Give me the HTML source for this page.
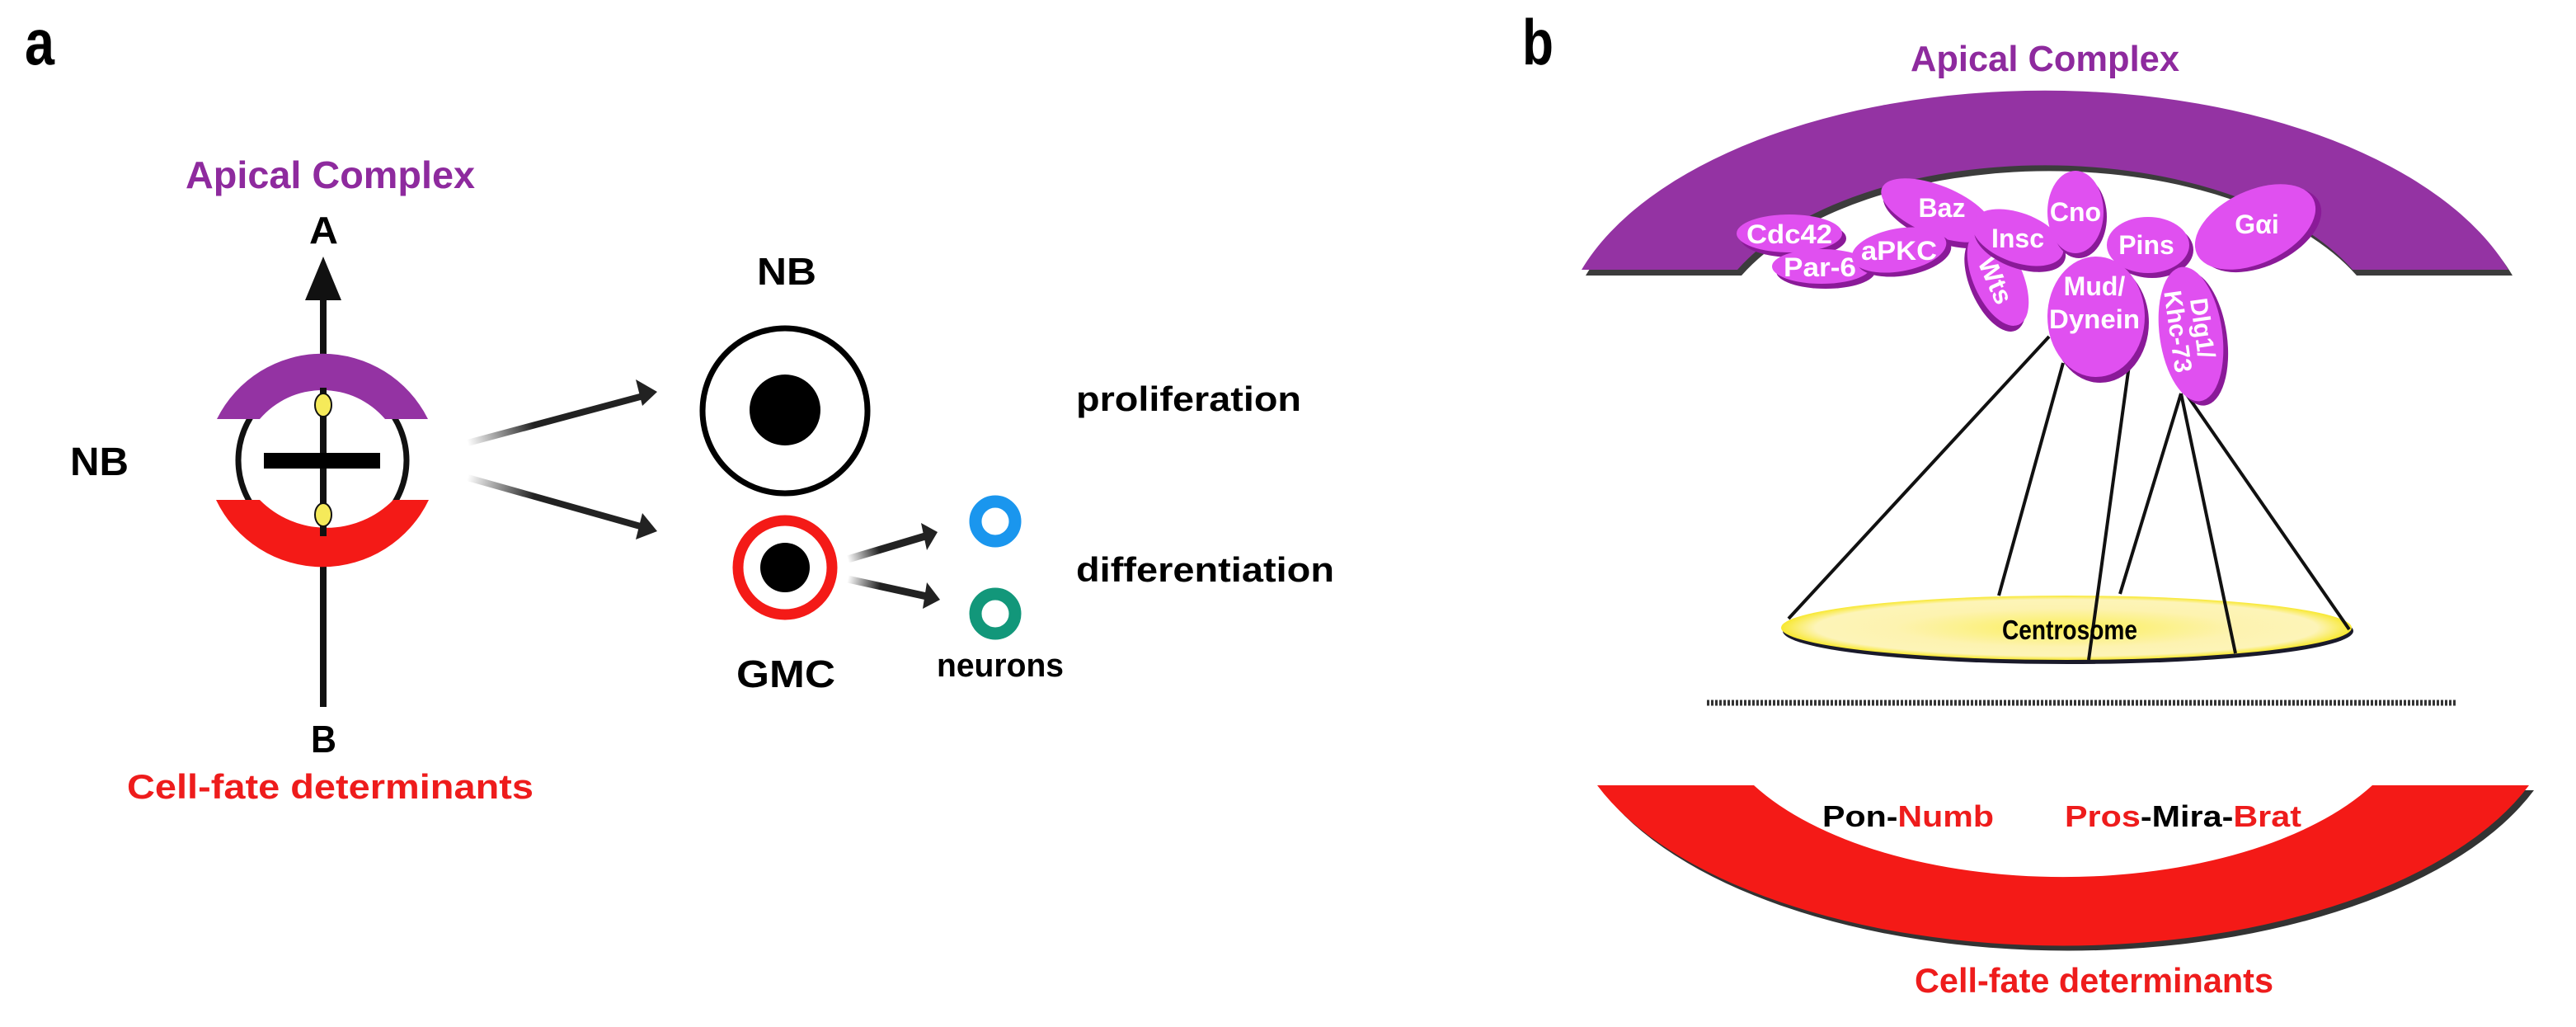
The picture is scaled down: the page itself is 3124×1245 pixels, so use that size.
<!DOCTYPE html>
<html><head><meta charset="utf-8"><style>
html,body{margin:0;padding:0;background:#fff;}
svg{display:block;}
text{font-family:"Liberation Sans Narrow","Liberation Sans",Arial,sans-serif;font-weight:bold;}
</style></head><body>
<svg width="3124" height="1245" viewBox="0 0 3124 1245" xmlns="http://www.w3.org/2000/svg">
<defs>
<linearGradient id="ga1" gradientUnits="userSpaceOnUse" x1="567" y1="537" x2="797" y2="475"><stop offset="0" stop-color="#222" stop-opacity="0"/><stop offset="0.35" stop-color="#222"/><stop offset="1" stop-color="#222"/></linearGradient>
<linearGradient id="ga2" gradientUnits="userSpaceOnUse" x1="567" y1="579" x2="797" y2="644"><stop offset="0" stop-color="#222" stop-opacity="0"/><stop offset="0.35" stop-color="#222"/><stop offset="1" stop-color="#222"/></linearGradient>
<linearGradient id="ga3" gradientUnits="userSpaceOnUse" x1="1028" y1="678" x2="1137" y2="645"><stop offset="0" stop-color="#222" stop-opacity="0"/><stop offset="0.35" stop-color="#222"/><stop offset="1" stop-color="#222"/></linearGradient>
<linearGradient id="ga4" gradientUnits="userSpaceOnUse" x1="1028" y1="702" x2="1140" y2="727"><stop offset="0" stop-color="#222" stop-opacity="0"/><stop offset="0.35" stop-color="#222"/><stop offset="1" stop-color="#222"/></linearGradient>
<radialGradient id="cg" cx="0.5" cy="0.5" r="0.5"><stop offset="0" stop-color="#fbef5a"/><stop offset="0.6" stop-color="#fdf3b0"/><stop offset="0.88" stop-color="#fdf4b8"/><stop offset="1" stop-color="#f8e830"/></radialGradient>
</defs>

<!-- Panel a -->
<text x="30" y="78" font-size="78" textLength="36" lengthAdjust="spacingAndGlyphs">a</text>
<text x="225" y="228" font-size="46" fill="#8e2a9e" textLength="351" lengthAdjust="spacingAndGlyphs">Apical Complex</text>
<text x="375" y="295" font-size="46" textLength="35" lengthAdjust="spacingAndGlyphs">A</text>
<text x="85" y="576" font-size="48" textLength="71" lengthAdjust="spacingAndGlyphs">NB</text>
<text x="377" y="912" font-size="46" textLength="31" lengthAdjust="spacingAndGlyphs">B</text>
<text x="154" y="968" font-size="42" fill="#ee1c1c" textLength="493" lengthAdjust="spacingAndGlyphs">Cell-fate determinants</text>

<ellipse cx="391" cy="558" rx="102" ry="100" fill="none" stroke="#111" stroke-width="7"/>
<line x1="392" y1="360" x2="392" y2="857" stroke="#111" stroke-width="8"/>
<polygon points="392,311 370,364 414,364" fill="#111"/>
<path d="M263,508 A143,143 0 0 1 519,508 L467,508 A100,100 0 0 0 315,508 Z" fill="#9433a3"/>
<path d="M262,606 A143,143 0 0 0 520,606 L477,606 A114,114 0 0 1 315,606 Z" fill="#f41a17"/>
<line x1="392" y1="470" x2="392" y2="650" stroke="#111" stroke-width="8"/>
<rect x="320" y="549" width="141" height="19" fill="#000"/>
<ellipse cx="392" cy="491" rx="10" ry="14" fill="#f5ea5a" stroke="#111" stroke-width="2"/>
<ellipse cx="392" cy="624" rx="10" ry="14" fill="#f5ea5a" stroke="#111" stroke-width="2"/>

<line x1="567" y1="537" x2="780" y2="480" stroke="url(#ga1)" stroke-width="8"/>
<polygon points="797,475 771,460 779,492" fill="#222"/>
<line x1="567" y1="579" x2="780" y2="639" stroke="url(#ga2)" stroke-width="8"/>
<polygon points="797,644 779,622 771,654" fill="#222"/>

<text x="954" y="345" font-size="46" text-anchor="middle" textLength="72" lengthAdjust="spacingAndGlyphs">NB</text>
<circle cx="952" cy="498" r="100" fill="none" stroke="#000" stroke-width="7"/>
<circle cx="952" cy="497" r="43" fill="#000"/>
<text x="1305" y="498" font-size="42" textLength="273" lengthAdjust="spacingAndGlyphs">proliferation</text>
<text x="1305" y="705" font-size="42" textLength="313" lengthAdjust="spacingAndGlyphs">differentiation</text>

<circle cx="952" cy="688" r="57" fill="none" stroke="#f41a17" stroke-width="13"/>
<circle cx="952" cy="688" r="30" fill="#000"/>
<text x="953" y="833" font-size="46" text-anchor="middle" textLength="120" lengthAdjust="spacingAndGlyphs">GMC</text>
<line x1="1028" y1="678" x2="1122" y2="650" stroke="url(#ga3)" stroke-width="9"/>
<polygon points="1137,645 1117,634 1124,667" fill="#222"/>
<line x1="1028" y1="702" x2="1124" y2="723" stroke="url(#ga4)" stroke-width="9"/>
<polygon points="1140,727 1124,706 1119,738" fill="#222"/>
<circle cx="1207" cy="632" r="24" fill="none" stroke="#1a96ee" stroke-width="15"/>
<circle cx="1207" cy="744" r="24" fill="none" stroke="#12977a" stroke-width="15"/>
<text x="1136" y="820" font-size="40" textLength="154" lengthAdjust="spacingAndGlyphs">neurons</text>

<!-- Panel b -->
<text x="1846" y="78" font-size="78" textLength="38" lengthAdjust="spacingAndGlyphs">b</text>
<text x="2480" y="86" font-size="44" fill="#8e2a9e" text-anchor="middle" textLength="326" lengthAdjust="spacingAndGlyphs">Apical Complex</text>

<path transform="translate(5,7)" d="M1918,327 A589,310 0 0 1 3042,327 L2853,327 A412,220 0 0 0 2107,327 Z" fill="#3c3c3c"/>
<path d="M1918,327 A589,310 0 0 1 3042,327 L2853,327 A412,220 0 0 0 2107,327 Z" fill="#9433a3"/>

<ellipse cx="2508" cy="765" rx="346" ry="40" fill="#1a1a2a"/>
<ellipse cx="2506" cy="761" rx="346" ry="39" fill="url(#cg)"/>

<g stroke="#111" stroke-width="4">
<line x1="2485" y1="408" x2="2169" y2="750"/>
<line x1="2502" y1="440" x2="2424" y2="722"/>
<line x1="2582" y1="443" x2="2533" y2="800"/>
<line x1="2645" y1="477" x2="2571" y2="720"/>
<line x1="2645" y1="477" x2="2711" y2="792"/>
<line x1="2651" y1="477" x2="2849" y2="763"/>
</g>
<text x="2510" y="775" font-size="33" text-anchor="middle" textLength="164" lengthAdjust="spacingAndGlyphs">Centrosome</text>

<g>
<g transform="translate(2349,255) rotate(22)"><ellipse cx="5" cy="6" rx="72" ry="30" fill="#8a1a98"/><ellipse rx="72" ry="30" fill="#e050f0"/></g>
<text x="2355" y="263" font-size="32" fill="#fff" text-anchor="middle">Baz</text>
<g transform="translate(2170,283)"><ellipse cx="5" cy="6" rx="64" ry="23" fill="#8a1a98"/><ellipse rx="64" ry="23" fill="#e050f0"/></g>
<text x="2170" y="295" font-size="32" fill="#fff" text-anchor="middle" textLength="104" lengthAdjust="spacingAndGlyphs">Cdc42</text>
<g transform="translate(2209,323)"><ellipse cx="5" cy="6" rx="60" ry="21" fill="#8a1a98"/><ellipse rx="60" ry="21" fill="#e050f0"/></g>
<text x="2207" y="335" font-size="32" fill="#fff" text-anchor="middle" textLength="88" lengthAdjust="spacingAndGlyphs">Par-6</text>
<g transform="translate(2303,303) rotate(-10)"><ellipse cx="5" cy="6" rx="58" ry="26" fill="#8a1a98"/><ellipse rx="58" ry="26" fill="#e050f0"/></g>
<text x="2303" y="315" font-size="32" fill="#fff" text-anchor="middle" textLength="92" lengthAdjust="spacingAndGlyphs">aPKC</text>
<g transform="translate(2423,337) rotate(66)"><ellipse cx="5" cy="6" rx="62" ry="30" fill="#8a1a98"/><ellipse rx="62" ry="30" fill="#e050f0"/></g>
<text transform="translate(2420,340) rotate(66)" y="11" font-size="32" fill="#fff" text-anchor="middle">Wts</text>
<g transform="translate(2447,288) rotate(20)"><ellipse cx="5" cy="6" rx="58" ry="30" fill="#8a1a98"/><ellipse rx="58" ry="30" fill="#e050f0"/></g>
<text x="2447" y="300" font-size="32" fill="#fff" text-anchor="middle">Insc</text>
<g transform="translate(2735,275) rotate(-25)"><ellipse cx="5" cy="6" rx="78" ry="44" fill="#8a1a98"/><ellipse rx="78" ry="44" fill="#e050f0"/></g>
<text x="2737" y="283" font-size="32" fill="#fff" text-anchor="middle">Gαi</text>
<g transform="translate(2605,297)"><ellipse cx="5" cy="6" rx="50" ry="34" fill="#8a1a98"/><ellipse rx="50" ry="34" fill="#e050f0"/></g>
<text x="2603" y="308" font-size="32" fill="#fff" text-anchor="middle">Pins</text>
<g transform="translate(2517,257)"><ellipse cx="4" cy="6" rx="34" ry="50" fill="#8a1a98"/><ellipse rx="34" ry="50" fill="#e050f0"/></g>
<text x="2517" y="268" font-size="32" fill="#fff" text-anchor="middle">Cno</text>
<g transform="translate(2657,405) rotate(-8)"><ellipse cx="5" cy="6" rx="38" ry="82" fill="#8a1a98"/><ellipse rx="38" ry="82" fill="#e050f0"/></g>
<g transform="translate(2655,400) rotate(82)" fill="#fff" font-size="30">
<text x="0" y="-6" text-anchor="middle">Dlg1/</text>
<text x="0" y="24" text-anchor="middle">Khc-73</text>
</g>
<g transform="translate(2542,384)"><ellipse cx="5" cy="7" rx="59" ry="73" fill="#8a1a98"/><ellipse rx="59" ry="73" fill="#e050f0"/></g>
<text x="2540" y="358" font-size="32" fill="#fff" text-anchor="middle">Mud/</text>
<text x="2540" y="398" font-size="32" fill="#fff" text-anchor="middle" textLength="110" lengthAdjust="spacingAndGlyphs">Dynein</text>
</g>

<line x1="2070" y1="852" x2="2980" y2="852" stroke="#333" stroke-width="7" stroke-dasharray="3,2"/>

<path transform="translate(6,6)" d="M1937,952 A602,297 0 0 0 3067,952 L2877,952 A427,213 0 0 1 2127,952 Z" fill="#333"/>
<path d="M1937,952 A602,297 0 0 0 3067,952 L2877,952 A427,213 0 0 1 2127,952 Z" fill="#f41a17"/>
<text x="2210" y="1002" font-size="36" textLength="208" lengthAdjust="spacingAndGlyphs"><tspan fill="#000">Pon-</tspan><tspan fill="#ee1c1c">Numb</tspan></text>
<text x="2504" y="1002" font-size="36" textLength="287" lengthAdjust="spacingAndGlyphs"><tspan fill="#ee1c1c">Pros</tspan><tspan fill="#000">-Mira-</tspan><tspan fill="#ee1c1c">Brat</tspan></text>
<text x="2322" y="1203" font-size="42" fill="#ee1c1c" textLength="435" lengthAdjust="spacingAndGlyphs">Cell-fate determinants</text>
</svg>
</body></html>
